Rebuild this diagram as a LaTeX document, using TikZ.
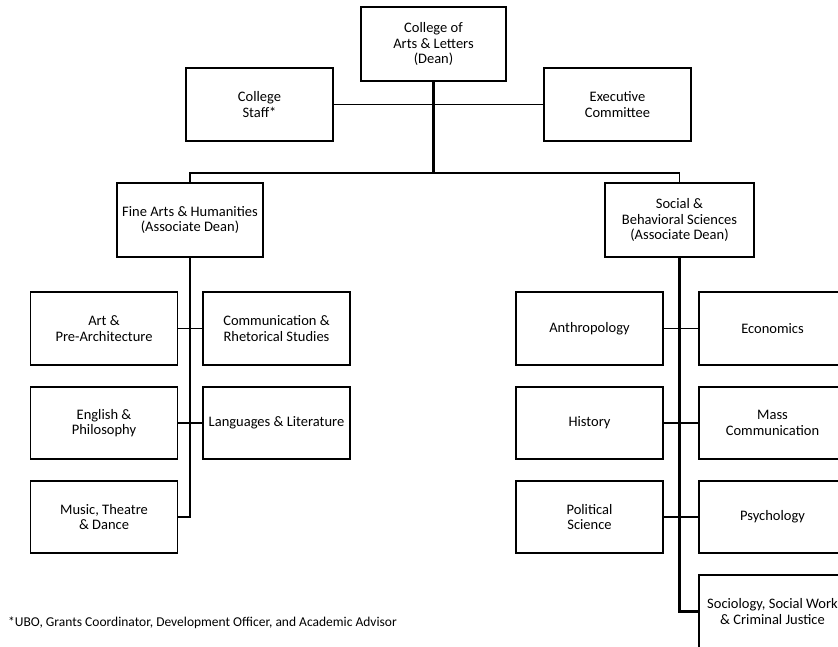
\documentclass[tikz,border=0pt]{standalone}
\usepackage{fontspec}
\setmainfont{Carlito}
\begin{document}
\begin{tikzpicture}[x=1pt,y=-1pt,font=\fontsize{14.5}{15.6}\selectfont,
    unit/.style={draw,line width=1.3pt,minimum width=147pt,minimum height=73pt,align=center,inner sep=2pt},
    link/.style={line width=1.3pt},
    trunk/.style={line width=2.2pt}]
    \useasboundingbox (0,0) rectangle (838,646);
    \clip (0,0) rectangle (838,646);
    % top level
    \node[unit,minimum width=145pt,minimum height=74pt] (dean) at (433.5,44) {College of\\Arts \& Letters\\(Dean)};
    \node[unit] (staff) at (259.5,104.5) {College\\Staff*};
    \node[unit] (exec) at (617.5,104.5) {Executive\\Committee};
    \coordinate (bus) at (433.5,173);
    \draw[link] (staff.east) -- (exec.west);
    \draw[trunk] (dean.south) -- (bus);
    % associate deans
    \node[unit,minimum width=146pt,minimum height=74pt] (fine) at (190,220) {Fine Arts \& Humanities\\(Associate Dean)};
    \node[unit,minimum width=149pt,minimum height=74pt] (social) at (679.5,220) {Social \&\\Behavioral Sciences\\(Associate Dean)};
    \draw[link] (fine.north) |- (bus) -| (social.north);
    % fine arts & humanities
    \node[unit] (art) at (104,328.5) {Art \&\\Pre-Architecture};
    \node[unit] (comm) at (276.5,328.5) {Communication \&\\Rhetorical Studies};
    \node[unit,minimum height=72pt] (eng) at (104,423) {English \&\\Philosophy};
    \node[unit,minimum height=72pt] (lang) at (276.5,423) {Languages \& Literature};
    \node[unit,minimum height=72pt] (music) at (104,517) {Music, Theatre\\\& Dance};
    \draw[trunk] (fine.south) |- (music.east);
    \draw[link] (art.east) -- (comm.west);
    \draw[link] (eng.east) -- (lang.west);
    % social & behavioral sciences
    \node[unit] (anthro) at (589.5,328.5) {Anthropology};
    \node[unit] (econ) at (772.5,328.5) {Economics};
    \node[unit,minimum height=72pt] (hist) at (589.5,423) {History};
    \node[unit,minimum height=72pt] (mass) at (772.5,423) {Mass\\Communication};
    \node[unit,minimum height=72pt] (polsci) at (589.5,517) {Political\\Science};
    \node[unit,minimum height=72pt] (psych) at (772.5,517) {Psychology};
    \node[unit] (socio) at (772.5,611.5) {Sociology, Social Work\\\& Criminal Justice};
    \draw[trunk] (social.south) |- (socio.west);
    \draw[link] (anthro.east) -- (econ.west);
    \draw[link] (hist.east) -- (mass.west);
    \draw[link] (polsci.east) -- (psych.west);
    % footnote
    \node[anchor=west,inner sep=0pt,font=\fontsize{13.5}{15}\selectfont] (note) at (8,623) {*UBO, Grants Coordinator, Development Officer, and Academic Advisor};
\end{tikzpicture}
\end{document}
